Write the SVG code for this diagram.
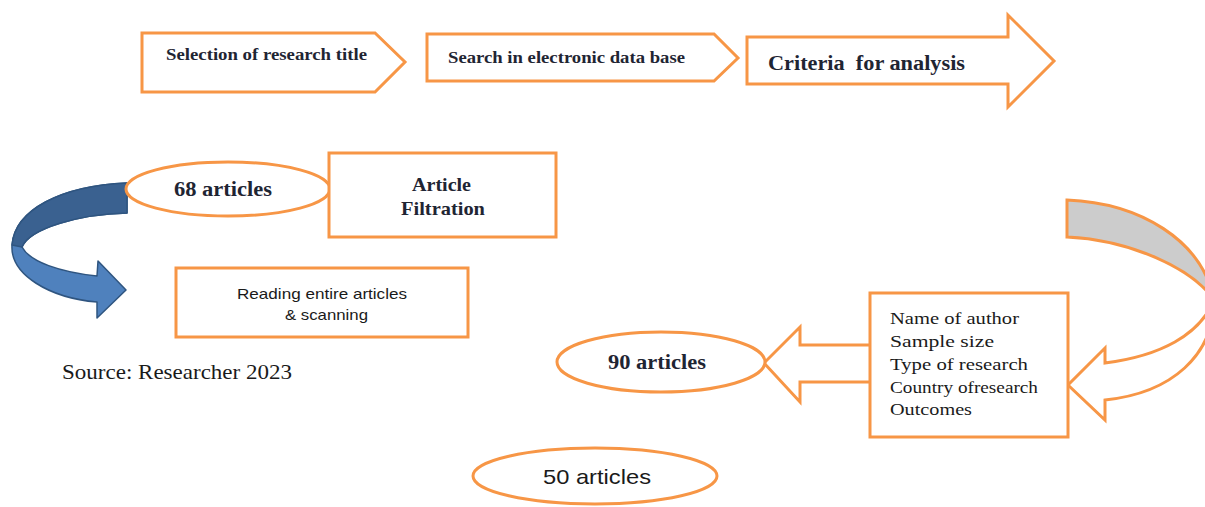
<svg xmlns="http://www.w3.org/2000/svg" width="1205" height="507" viewBox="0 0 1205 507">
<style>
.o{fill:#fff;stroke:#f79646;stroke-width:3;stroke-linejoin:miter}
.bs{font-family:"Liberation Serif","Times New Roman",serif;font-weight:bold;fill:#1f2533}
.rs{font-family:"Liberation Serif","Times New Roman",serif;fill:#1a1a1a;white-space:pre}
.ss{font-family:"Liberation Sans",Arial,sans-serif;fill:#1a1a1a}
</style>
<rect width="1205" height="507" fill="#fff"/>
<g id="connectors">
  <g id="blue-arrow">
    <path d="M127,183 C60,186 15,210 12,245 C10,275 50,298 97,302 L97,318 L126,290 L98,261 L97,276 C60,272 30,262 22,247 C30,228 80,214 127,213 Z" fill="#4f81bd" stroke="#2f5580" stroke-width="1.5" stroke-linejoin="round"/>
    <path d="M127,183 C60,186 15,210 12,245 L22,247 C30,228 80,214 127,213 Z" fill="#3a6190" stroke="#2f5580" stroke-width="1.5" stroke-linejoin="round"/>
  </g>
  <g id="gray-arrow">
    <path d="M1214,300 C1214,355 1172,393 1105,400 L1105,420 L1068,385 L1105,348 L1105,363 C1160,356 1200,335 1214,300 Z" class="o"/>
    <path d="M1067,200 C1140,203 1202,240 1214,300 C1192,268 1130,240 1067,237 Z" fill="#cccccc" stroke="#f79646" stroke-width="3"/>
  </g>
  <path id="left-arrow" d="M870,345 L800,345 L800,327 L764,363 L800,402 L800,382 L870,382" class="o"/>
</g>
<g id="n1">
  <path d="M142,33 L375,33 L405,62 L375,92 L142,92 Z" class="o"/>
  <text x="166" y="60" class="bs" font-size="16" textLength="201" lengthAdjust="spacingAndGlyphs">Selection of research title</text>
</g>
<g id="n2">
  <path d="M427,34 L714,34 L738,58 L714,81 L427,81 Z" class="o"/>
  <text x="448" y="63" class="bs" font-size="16" textLength="237" lengthAdjust="spacingAndGlyphs">Search in electronic data base</text>
</g>
<g id="n3">
  <path d="M747,37 L1008,37 L1008,15 L1054,61 L1008,107 L1008,84 L747,84 Z" class="o"/>
  <text x="768" y="70" class="bs" font-size="20" style="white-space:pre" textLength="197" lengthAdjust="spacingAndGlyphs">Criteria  for analysis</text>
</g>
<g id="n4">
  <ellipse cx="228" cy="189" rx="102" ry="27" class="o"/>
  <text x="174" y="196" class="bs" font-size="20" textLength="98" lengthAdjust="spacingAndGlyphs">68 articles</text>
</g>
<g id="n5">
  <rect x="329" y="153" width="227" height="84" class="o"/>
  <text x="412" y="191" class="bs" font-size="19" textLength="59" lengthAdjust="spacingAndGlyphs">Article</text>
  <text x="401" y="215" class="bs" font-size="19" textLength="84" lengthAdjust="spacingAndGlyphs">Filtration</text>
</g>
<g id="n6">
  <rect x="176" y="268" width="292" height="69" class="o"/>
  <text x="237" y="299" class="ss" font-size="15" textLength="170" lengthAdjust="spacingAndGlyphs">Reading entire articles</text>
  <text x="285" y="320" class="ss" font-size="15" textLength="83" lengthAdjust="spacingAndGlyphs">&amp; scanning</text>
</g>
<g id="n7">
  <rect x="870" y="293" width="198" height="144" class="o"/>
  <g class="rs" font-size="17.5">
    <text x="890" y="324" textLength="129" lengthAdjust="spacingAndGlyphs">Name of author</text>
    <text x="890" y="347" textLength="104" lengthAdjust="spacingAndGlyphs">Sample  size</text>
    <text x="890" y="370" textLength="138" lengthAdjust="spacingAndGlyphs">Type of research</text>
    <text x="890" y="393" textLength="148" lengthAdjust="spacingAndGlyphs">Country ofresearch</text>
    <text x="890" y="415" textLength="82" lengthAdjust="spacingAndGlyphs">Outcomes</text>
  </g>
</g>
<g id="n8">
  <ellipse cx="661" cy="362" rx="104" ry="30" class="o"/>
  <text x="608" y="369" class="bs" font-size="20" textLength="98" lengthAdjust="spacingAndGlyphs">90 articles</text>
</g>
<g id="n9">
  <ellipse cx="595" cy="476" rx="122" ry="28" class="o"/>
  <text x="543" y="484" class="ss" font-size="21" textLength="108" lengthAdjust="spacingAndGlyphs">50 articles</text>
</g>
<text x="62" y="379" class="rs" font-size="21" textLength="230" lengthAdjust="spacingAndGlyphs">Source: Researcher 2023</text>
</svg>
